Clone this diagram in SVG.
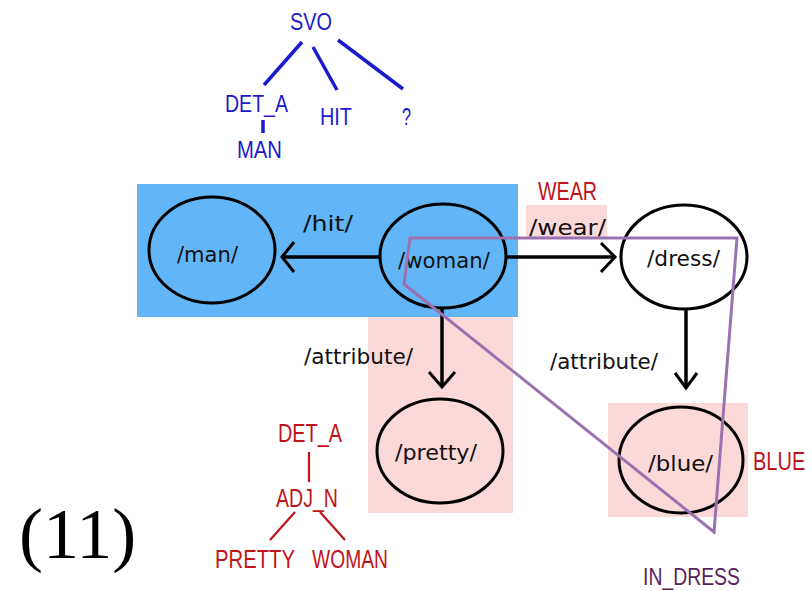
<svg xmlns="http://www.w3.org/2000/svg" width="812" height="591" viewBox="0 0 812 591">
<style>
.node{fill:none;stroke:#000;stroke-width:3}
.lbl{font-family:"DejaVu Sans","Liberation Sans",sans-serif;font-size:21px;fill:#111}
.edge{fill:none;stroke:#000;stroke-width:3.5}
.head{fill:none;stroke:#000;stroke-width:3;stroke-linejoin:miter}
.blue{font-family:"Liberation Sans",Arial,sans-serif;font-size:24px;fill:#1a1acc}
.red{font-family:"Liberation Sans",Arial,sans-serif;font-size:25px;fill:#c0141a}
.bl{stroke:#1a1acc;stroke-width:3.5;fill:none}
.rl{stroke:#c0141a;stroke-width:2.2;fill:none}
</style>
<rect width="812" height="591" fill="#fff"/>
<g id="regions">
<rect x="137" y="184" width="381" height="133" fill="#62b6f8"/>
<rect x="368" y="317" width="145" height="196" fill="#fbd9d9"/>
<rect x="526" y="205" width="81" height="33" fill="#fbd9d9"/>
<rect x="608" y="403" width="140" height="114" fill="#fbd9d9"/>
</g>
<g id="svo-tree">
<text class="blue" x="311" y="30" text-anchor="middle" textLength="42" lengthAdjust="spacingAndGlyphs">SVO</text>
<line class="bl" x1="302" y1="42" x2="264" y2="85"/>
<line class="bl" x1="313" y1="47" x2="337" y2="90"/>
<line class="bl" x1="338" y1="40" x2="403" y2="89"/>
<text class="blue" x="225" y="112" textLength="63" lengthAdjust="spacingAndGlyphs">DET_A</text>
<text class="blue" x="320" y="125" textLength="32" lengthAdjust="spacingAndGlyphs">HIT</text>
<text class="blue" x="402" y="125" textLength="9" lengthAdjust="spacingAndGlyphs">?</text>
<line class="bl" x1="263" y1="120" x2="263" y2="133"/>
<text class="blue" x="237" y="158" textLength="45" lengthAdjust="spacingAndGlyphs">MAN</text>
</g>
<g id="connectors">
<line class="edge" x1="380" y1="257" x2="284" y2="257"/>
<polyline class="head" points="294,242 282,257 294,272"/>
<line class="edge" x1="506" y1="257" x2="613" y2="257"/>
<polyline class="head" points="601,243 615,257 601,272"/>
<line class="edge" x1="442" y1="309" x2="442" y2="385"/>
<polyline class="head" points="429,372 442,387 455,372"/>
<line class="edge" x1="686" y1="310" x2="686" y2="386"/>
<polyline class="head" points="675,373 686,388 697,373"/>
<text class="lbl" x="303" y="231" textLength="50" lengthAdjust="spacingAndGlyphs">/hit/</text>
<text class="lbl" x="529" y="235" textLength="77" lengthAdjust="spacingAndGlyphs">/wear/</text>
<text class="lbl" x="304" y="364" textLength="109" lengthAdjust="spacingAndGlyphs">/attribute/</text>
<text class="lbl" x="550" y="369" textLength="108" lengthAdjust="spacingAndGlyphs">/attribute/</text>
</g>
<g id="node-man">
<ellipse class="node" cx="212" cy="250" rx="63" ry="53"/>
<text class="lbl" x="177" y="262" textLength="61" lengthAdjust="spacingAndGlyphs">/man/</text>
</g>
<g id="node-woman">
<ellipse class="node" cx="443" cy="256" rx="63" ry="52"/>
<text class="lbl" x="398" y="268" textLength="92" lengthAdjust="spacingAndGlyphs">/woman/</text>
</g>
<g id="node-dress">
<ellipse class="node" cx="684" cy="257" rx="63" ry="52"/>
<text class="lbl" x="647" y="266" textLength="73" lengthAdjust="spacingAndGlyphs">/dress/</text>
</g>
<g id="node-pretty">
<ellipse class="node" cx="440" cy="451" rx="63" ry="52"/>
<text class="lbl" x="395" y="460" textLength="82" lengthAdjust="spacingAndGlyphs">/pretty/</text>
</g>
<g id="node-blue">
<ellipse class="node" cx="681" cy="460" rx="62" ry="53"/>
<text class="lbl" x="648" y="471" textLength="65" lengthAdjust="spacingAndGlyphs">/blue/</text>
</g>
<g id="red-labels">
<text class="red" x="538" y="200" textLength="59" lengthAdjust="spacingAndGlyphs">WEAR</text>
<text class="red" transform="translate(753,470) scale(0.8,1)" x="0" y="0" font-size="24">BLUE</text>
<text class="red" x="278" y="442" textLength="64" lengthAdjust="spacingAndGlyphs">DET_A</text>
<line class="rl" x1="309" y1="452" x2="309" y2="482"/>
<text class="red" x="276" y="507" textLength="62" lengthAdjust="spacingAndGlyphs">ADJ_N</text>
<line class="rl" x1="295" y1="512" x2="270" y2="540"/>
<line class="rl" x1="320" y1="512" x2="345" y2="540"/>
<text class="red" x="215" y="568" textLength="80" lengthAdjust="spacingAndGlyphs">PRETTY</text>
<text class="red" x="312" y="568" textLength="76" lengthAdjust="spacingAndGlyphs">WOMAN</text>
</g>
<g id="in-dress">
<polygon points="410,238 737,238 714,532 404,284" fill="none" stroke="#9b72b0" stroke-width="3" stroke-linejoin="miter"/>
<text x="643" y="585" font-family="'Liberation Sans',Arial,sans-serif" font-size="24" fill="#5a1f5e" textLength="97" lengthAdjust="spacingAndGlyphs">IN_DRESS</text>
</g>
<text x="19" y="558" font-family="'Liberation Serif','Times New Roman',serif" font-size="72" fill="#000">(11)</text>
</svg>
